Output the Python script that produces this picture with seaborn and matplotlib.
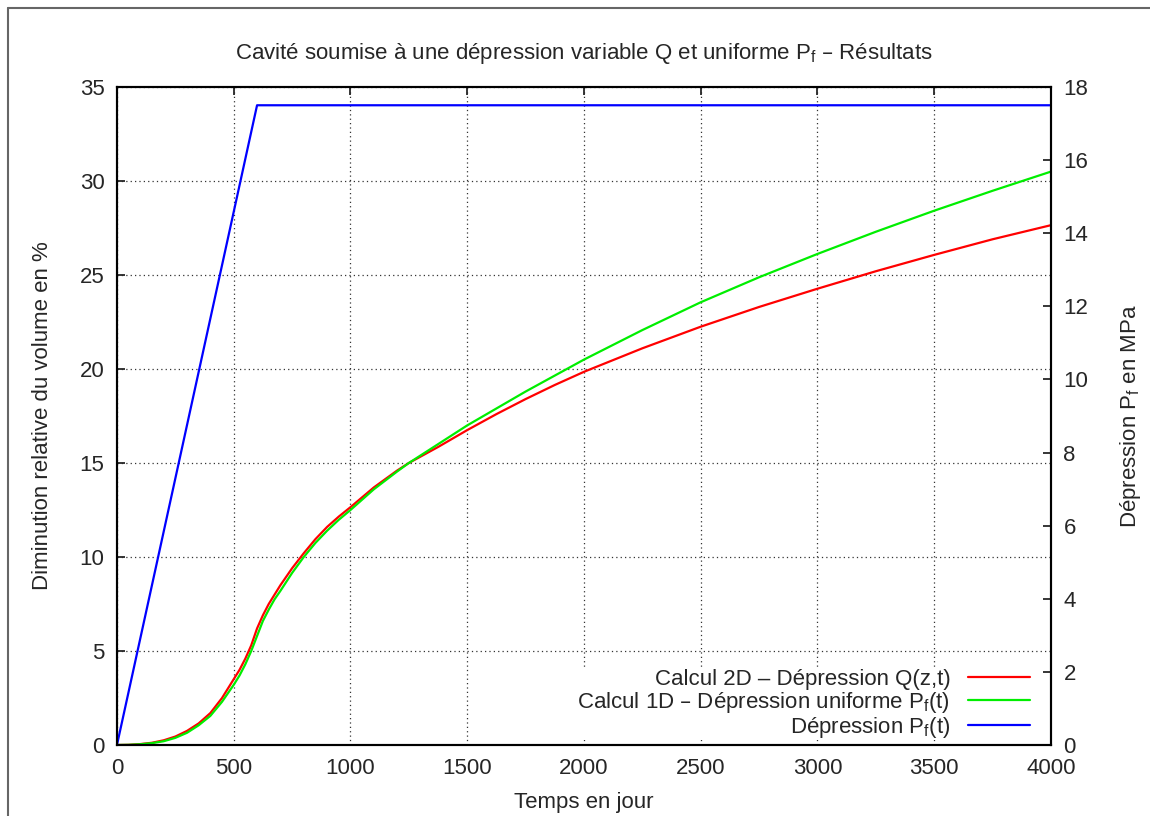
import numpy as np
import pandas as pd
import matplotlib
matplotlib.use("Agg")
import matplotlib.pyplot as plt
import seaborn as sns
from matplotlib.lines import Line2D

# values
temps = [0, 50, 100, 150, 200, 250, 300, 350, 400, 450, 500, 525, 550, 575, 600, 625, 650,
         675, 700, 750, 800, 850, 900, 950, 1000, 1100, 1200, 1250, 1375, 1500, 1625, 1750,
         1875, 2000, 2250, 2500, 2750, 3000, 3250, 3500, 3750, 4000]
vol_2d = [0, 0.01, 0.05, 0.12, 0.25, 0.45, 0.75, 1.15, 1.7, 2.5, 3.5, 4.0, 4.6, 5.3, 6.2,
          6.9, 7.5, 8.0, 8.5, 9.4, 10.2, 10.95, 11.6, 12.15, 12.65, 13.7, 14.6, 15.0, 15.85,
          16.75, 17.6, 18.4, 19.15, 19.85, 21.1, 22.25, 23.3, 24.27, 25.2, 26.07, 26.9, 27.65]
vol_1d = [0, 0.01, 0.04, 0.1, 0.2, 0.38, 0.65, 1.05, 1.55, 2.3, 3.2, 3.7, 4.3, 5.0, 5.8,
          6.6, 7.2, 7.75, 8.2, 9.15, 10.0, 10.75, 11.4, 11.98, 12.5, 13.6, 14.55, 15.0, 16.0,
          17.0, 17.9, 18.8, 19.65, 20.5, 22.07, 23.55, 24.88, 26.12, 27.3, 28.42, 29.48, 30.5]
temps_pf = [0, 600, 4000]
pression_pf = [0, 17.5, 17.5]

labels = [
    r"Calcul 2D – Dépression Q(z,t)",
    r"Calcul 1D – Dépression uniforme $\mathregular{P_f}$(t)",
    r"Dépression $\mathregular{P_f}$(t)",
]

sns.set_style("white")
plt.rcParams["font.family"] = ["Liberation Sans", "DejaVu Sans"]
plt.rcParams["font.size"] = 16

df = pd.DataFrame({"t": temps, "2d": vol_2d, "1d": vol_1d})
df_pf = pd.DataFrame({"t": temps_pf, "pf": pression_pf})

fig = plt.figure(figsize=(11.5, 8.16), dpi=100)
ax = fig.add_axes([0.1017, 0.087, 0.8122, 0.8064])
ax2 = ax.twinx()

sns.lineplot(data=df, x="t", y="2d", ax=ax, color="#ff0000", lw=1.6, label=labels[0], legend=False)
sns.lineplot(data=df, x="t", y="1d", ax=ax, color="#00ee00", lw=1.6, label=labels[1], legend=False)
sns.lineplot(data=df_pf, x="t", y="pf", ax=ax2, color="#0000ff", lw=1.6, label=labels[2], legend=False)

ax.set_xlim(0, 4000)
ax.set_ylim(0, 35)
ax2.set_ylim(0, 18)
ax.set_xticks(np.arange(0, 4001, 500))
ax.set_yticks(np.arange(0, 36, 5))
ax2.set_yticks(np.arange(0, 19, 2))

ax.grid(True, color="#333333", linestyle=(0, (1, 2.5)), lw=0.9)
for a in (ax, ax2):
    for s in a.spines.values():
        s.set_linewidth(1.5)
        s.set_color("black")
ax.tick_params(axis="both", direction="in", length=6, width=1.3, pad=9, labelsize=16,
               top=True, right=False)
ax2.tick_params(axis="y", direction="in", length=6, width=1.3, pad=9, labelsize=16)

ax.set_xlabel("Temps en jour", fontsize=16, labelpad=10)
ax.set_ylabel("Diminution relative du volume en %", fontsize=16, labelpad=19)
ax2.set_ylabel(r"Dépression $\mathregular{P_f}$ en MPa", fontsize=16, labelpad=21)
ax.set_title(r"Cavité soumise à une dépression variable Q et uniforme $\mathregular{P_f}$ – Résultats",
             fontsize=16, pad=20)

handles = ax.get_lines()[:2] + ax2.get_lines()[:1]
leg = ax2.legend(handles, labels, loc="lower right", bbox_to_anchor=(0.978, 0.0075),
                 markerfirst=False, frameon=True, fontsize=16, handlelength=2.8,
                 handletextpad=0.8, labelspacing=0.0, borderaxespad=0.0, borderpad=0.0)
leg.get_frame().set_facecolor("white")
leg.get_frame().set_edgecolor("none")
leg.get_frame().set_alpha(1)

# grey frame of the original picture (top and left only visible)
fig.add_artist(Line2D([8 / 1150, 1], [1 - 8 / 816, 1 - 8 / 816], color="#666666", lw=1.5))
fig.add_artist(Line2D([8 / 1150, 8 / 1150], [0, 1 - 8 / 816], color="#666666", lw=1.5))

fig.savefig("out.png", dpi=100)
